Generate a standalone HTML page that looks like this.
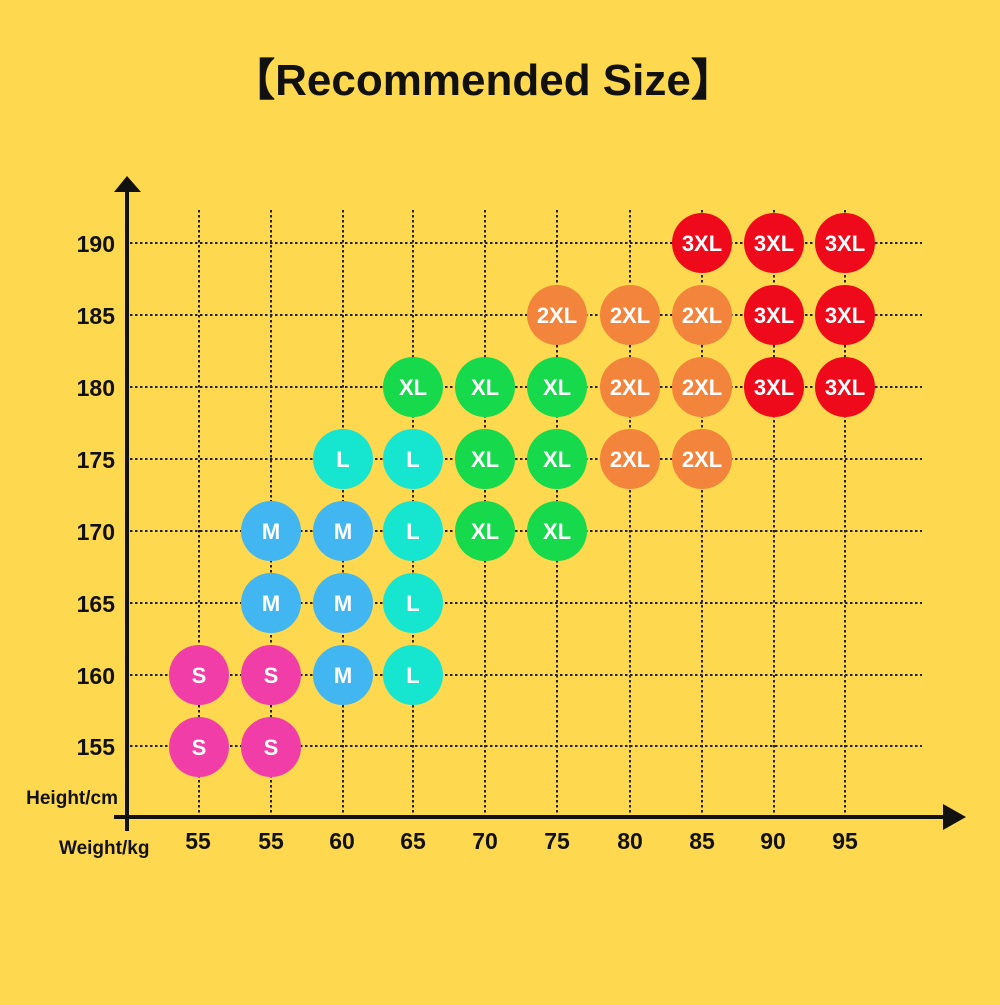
<!DOCTYPE html>
<html><head><style>
body{margin:0;width:1000px;height:1000px;background:#FED84E;overflow:hidden}
svg text{font-family:"Comic Sans MS","Liberation Sans","DejaVu Sans",sans-serif}
</style></head><body>
<svg width="1000" height="1000" viewBox="0 0 1000 1000" xmlns="http://www.w3.org/2000/svg">
<rect width="1000" height="1000" fill="#FED84E"/>
<text x="483" y="95" font-size="44" text-anchor="middle" fill="#111" font-weight="bold">【Recommended Size】</text>
<g stroke="#222" stroke-width="2" stroke-dasharray="2.5,2.5">
<line x1="199" y1="210" x2="199" y2="815"/><line x1="271" y1="210" x2="271" y2="815"/>
<line x1="343" y1="210" x2="343" y2="815"/><line x1="413" y1="210" x2="413" y2="815"/>
<line x1="485" y1="210" x2="485" y2="815"/><line x1="557" y1="210" x2="557" y2="815"/>
<line x1="630" y1="210" x2="630" y2="815"/><line x1="702" y1="210" x2="702" y2="815"/>
<line x1="774" y1="210" x2="774" y2="815"/><line x1="845" y1="210" x2="845" y2="815"/>
<line x1="130" y1="243" x2="922" y2="243"/><line x1="130" y1="315" x2="922" y2="315"/>
<line x1="130" y1="387" x2="922" y2="387"/><line x1="130" y1="459" x2="922" y2="459"/>
<line x1="130" y1="531" x2="922" y2="531"/><line x1="130" y1="603" x2="922" y2="603"/>
<line x1="130" y1="675" x2="922" y2="675"/><line x1="130" y1="746" x2="922" y2="746"/>
</g>
<line x1="127" y1="190" x2="127" y2="831" stroke="#111" stroke-width="4"/>
<polygon points="127,176 114,192 141,192" fill="#111"/>
<line x1="114" y1="817" x2="945" y2="817" stroke="#111" stroke-width="4"/>
<polygon points="966,817 943,804 943,830" fill="#111"/>
<g font-size="23" font-weight="bold" fill="#111" text-anchor="end">
<text x="115" y="252">190</text><text x="115" y="324">185</text><text x="115" y="396">180</text>
<text x="115" y="468">175</text><text x="115" y="540">170</text><text x="115" y="612">165</text>
<text x="115" y="684">160</text><text x="115" y="755">155</text>
</g>
<text x="118" y="804" font-size="19" font-weight="bold" text-anchor="end" fill="#111">Height/cm</text>
<text x="59" y="854" font-size="19" font-weight="bold" fill="#111">Weight/kg</text>
<g font-size="23" font-weight="bold" fill="#111" text-anchor="middle">
<text x="198" y="849">55</text><text x="271" y="849">55</text><text x="342" y="849">60</text>
<text x="413" y="849">65</text><text x="485" y="849">70</text><text x="557" y="849">75</text>
<text x="630" y="849">80</text><text x="702" y="849">85</text><text x="773" y="849">90</text>
<text x="845" y="849">95</text>
</g>
<g font-size="22" font-weight="bold" fill="#fff" text-anchor="middle">
<!-- 190 -->
<circle cx="702" cy="243" r="30" fill="#EE0A1A"/><text x="702" y="251">3XL</text>
<circle cx="774" cy="243" r="30" fill="#EE0A1A"/><text x="774" y="251">3XL</text>
<circle cx="845" cy="243" r="30" fill="#EE0A1A"/><text x="845" y="251">3XL</text>
<!-- 185 -->
<circle cx="557" cy="315" r="30" fill="#F2843C"/><text x="557" y="323">2XL</text>
<circle cx="630" cy="315" r="30" fill="#F2843C"/><text x="630" y="323">2XL</text>
<circle cx="702" cy="315" r="30" fill="#F2843C"/><text x="702" y="323">2XL</text>
<circle cx="774" cy="315" r="30" fill="#EE0A1A"/><text x="774" y="323">3XL</text>
<circle cx="845" cy="315" r="30" fill="#EE0A1A"/><text x="845" y="323">3XL</text>
<!-- 180 -->
<circle cx="413" cy="387" r="30" fill="#16D94C"/><text x="413" y="395">XL</text>
<circle cx="485" cy="387" r="30" fill="#16D94C"/><text x="485" y="395">XL</text>
<circle cx="557" cy="387" r="30" fill="#16D94C"/><text x="557" y="395">XL</text>
<circle cx="630" cy="387" r="30" fill="#F2843C"/><text x="630" y="395">2XL</text>
<circle cx="702" cy="387" r="30" fill="#F2843C"/><text x="702" y="395">2XL</text>
<circle cx="774" cy="387" r="30" fill="#EE0A1A"/><text x="774" y="395">3XL</text>
<circle cx="845" cy="387" r="30" fill="#EE0A1A"/><text x="845" y="395">3XL</text>
<!-- 175 -->
<circle cx="343" cy="459" r="30" fill="#16E5D0"/><text x="343" y="467">L</text>
<circle cx="413" cy="459" r="30" fill="#16E5D0"/><text x="413" y="467">L</text>
<circle cx="485" cy="459" r="30" fill="#16D94C"/><text x="485" y="467">XL</text>
<circle cx="557" cy="459" r="30" fill="#16D94C"/><text x="557" y="467">XL</text>
<circle cx="630" cy="459" r="30" fill="#F2843C"/><text x="630" y="467">2XL</text>
<circle cx="702" cy="459" r="30" fill="#F2843C"/><text x="702" y="467">2XL</text>
<!-- 170 -->
<circle cx="271" cy="531" r="30" fill="#41B6F0"/><text x="271" y="539">M</text>
<circle cx="343" cy="531" r="30" fill="#41B6F0"/><text x="343" y="539">M</text>
<circle cx="413" cy="531" r="30" fill="#16E5D0"/><text x="413" y="539">L</text>
<circle cx="485" cy="531" r="30" fill="#16D94C"/><text x="485" y="539">XL</text>
<circle cx="557" cy="531" r="30" fill="#16D94C"/><text x="557" y="539">XL</text>
<!-- 165 -->
<circle cx="271" cy="603" r="30" fill="#41B6F0"/><text x="271" y="611">M</text>
<circle cx="343" cy="603" r="30" fill="#41B6F0"/><text x="343" y="611">M</text>
<circle cx="413" cy="603" r="30" fill="#16E5D0"/><text x="413" y="611">L</text>
<!-- 160 -->
<circle cx="199" cy="675" r="30" fill="#F03DA8"/><text x="199" y="683">S</text>
<circle cx="271" cy="675" r="30" fill="#F03DA8"/><text x="271" y="683">S</text>
<circle cx="343" cy="675" r="30" fill="#41B6F0"/><text x="343" y="683">M</text>
<circle cx="413" cy="675" r="30" fill="#16E5D0"/><text x="413" y="683">L</text>
<!-- 155 -->
<circle cx="199" cy="747" r="30" fill="#F03DA8"/><text x="199" y="755">S</text>
<circle cx="271" cy="747" r="30" fill="#F03DA8"/><text x="271" y="755">S</text>
</g>
</svg>
</body></html>
